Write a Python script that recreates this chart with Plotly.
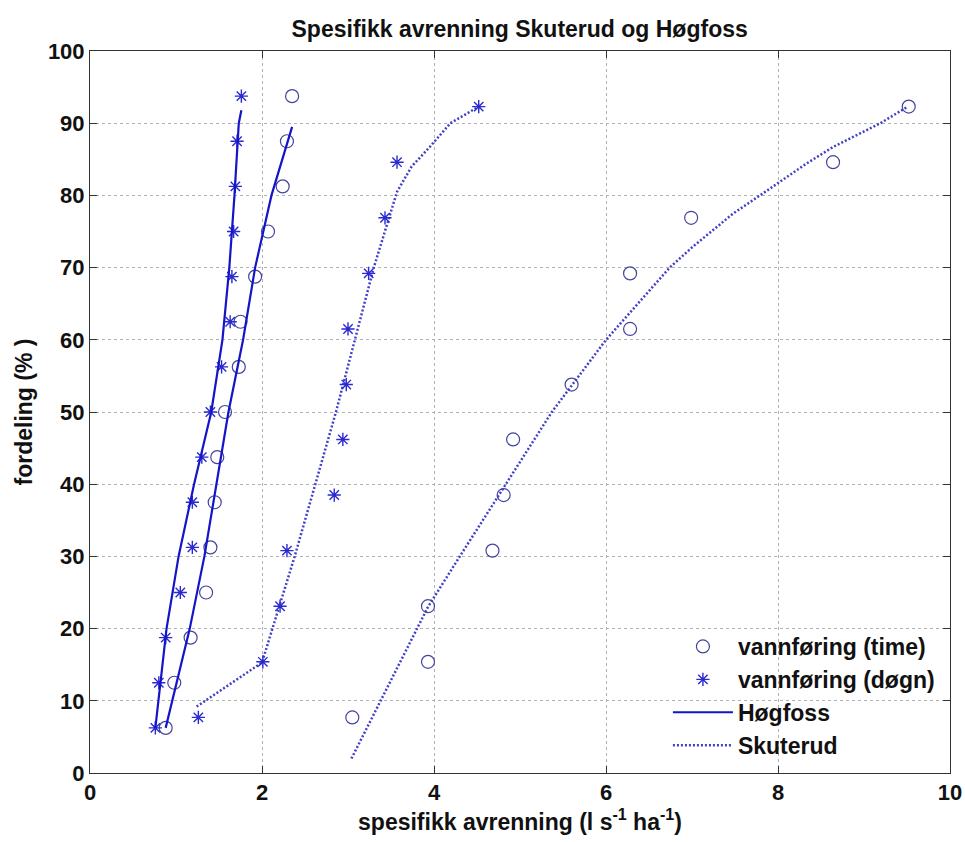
import plotly.graph_objects as go

# --- data ---
# Høgfoss (16 ranks -> step 6.25 %)
hog_y = [6.25, 12.5, 18.75, 25, 31.25, 37.5, 43.75, 50, 56.25, 62.5, 68.75, 75, 81.25, 87.5, 93.75]
hog_time_x = [0.88, 0.98, 1.17, 1.35, 1.40, 1.45, 1.48, 1.57, 1.73, 1.75, 1.92, 2.07, 2.24, 2.29, 2.35]
hog_dogn_x = [0.76, 0.80, 0.88, 1.05, 1.19, 1.19, 1.30, 1.40, 1.53, 1.63, 1.65, 1.67, 1.69, 1.71, 1.76]

# Skuterud (13 ranks -> step 7.69 %)
sku_y = [7.7, 15.4, 23.1, 30.8, 38.5, 46.2, 53.8, 61.5, 69.2, 76.9, 84.6, 92.3]
sku_time_x = [3.05, 3.93, 3.93, 4.68, 4.81, 4.92, 5.60, 6.28, 6.28, 6.99, 8.64, 9.52]
sku_dogn_x = [1.26, 2.01, 2.21, 2.29, 2.84, 2.94, 2.98, 3.00, 3.24, 3.43, 3.57, 4.52]

# fitted curves
hog_time_fit_x = [0.88, 0.955, 1.16, 1.33, 1.47, 1.61, 1.78, 1.92, 2.11, 2.35]
hog_time_fit_y = [6.25, 10, 20, 30, 40, 50, 60, 70, 80, 89.5]
hog_dogn_fit_x = [0.76, 0.795, 0.89, 1.03, 1.21, 1.41, 1.54, 1.62, 1.68, 1.73, 1.76]
hog_dogn_fit_y = [6.25, 10, 20, 30, 40, 50, 60, 70, 80, 90, 91.8]

sku_time_fit_x = [3.04, 3.38, 3.80, 3.93, 4.30, 4.84, 5.37, 6.00, 6.74, 7.01, 7.48, 7.79, 8.33, 8.64, 8.88, 9.19, 9.51]
sku_time_fit_y = [2.0, 10, 20, 23, 30, 40, 50, 60, 70, 72.9, 77.5, 80, 84.4, 86.7, 88.1, 90, 92.3]
sku_dogn_fit_x = [1.24, 2.00, 2.38, 2.62, 2.86, 3.08, 3.30, 3.47, 3.57, 3.74, 3.95, 4.19, 4.52]
sku_dogn_fit_y = [9.2, 15.3, 30, 40, 50, 60, 70, 76.6, 80.5, 84, 86.7, 90, 92.3]

x_ticks = [0, 2, 4, 6, 8, 10]
y_ticks = [0, 10, 20, 30, 40, 50, 60, 70, 80, 90, 100]

BLUE = "#1414c8"
DOT = "#4040c8"
CIRC = "#44449c"
STAR = "#2a2ad0"
FONT = "Arial, Liberation Sans, sans-serif"
DOTDASH = "2px,2px"

fig = go.Figure()
fig.add_trace(go.Scatter(x=hog_time_x, y=hog_y, mode="markers", name="vannføring (time)",
                         marker=dict(symbol="circle-open", size=13, color=CIRC, line=dict(width=1.2, color=CIRC))))
fig.add_trace(go.Scatter(x=hog_dogn_x, y=hog_y, mode="markers", name="vannføring (døgn)",
                         marker=dict(symbol="asterisk-open", size=11, color=STAR, line=dict(width=1.4, color=STAR))))
fig.add_trace(go.Scatter(x=hog_time_fit_x, y=hog_time_fit_y, mode="lines", name="Høgfoss",
                         line=dict(color=BLUE, width=2.2)))
fig.add_trace(go.Scatter(x=hog_dogn_fit_x, y=hog_dogn_fit_y, mode="lines", showlegend=False,
                         line=dict(color=BLUE, width=2.2)))
fig.add_trace(go.Scatter(x=sku_time_fit_x, y=sku_time_fit_y, mode="lines", name="Skuterud",
                         line=dict(color=DOT, width=2.5, dash=DOTDASH)))
fig.add_trace(go.Scatter(x=sku_dogn_fit_x, y=sku_dogn_fit_y, mode="lines", showlegend=False,
                         line=dict(color=DOT, width=2.5, dash=DOTDASH)))
fig.add_trace(go.Scatter(x=sku_time_x, y=sku_y, mode="markers", showlegend=False,
                         marker=dict(symbol="circle-open", size=13, color=CIRC, line=dict(width=1.2, color=CIRC))))
fig.add_trace(go.Scatter(x=sku_dogn_x, y=sku_y, mode="markers", showlegend=False,
                         marker=dict(symbol="asterisk-open", size=11, color=STAR, line=dict(width=1.4, color=STAR))))

axis_common = dict(showline=True, linecolor="#333", linewidth=1, mirror="ticks", ticks="inside",
                   ticklen=7, tickcolor="#333", showgrid=True, gridcolor="#b0b0b0", griddash="dot",
                   gridwidth=1, zeroline=False, automargin=False,
                   tickfont=dict(family=FONT, size=22, color="#111", weight="bold"))

fig.update_layout(
    width=965, height=842,
    margin=dict(l=90, r=15, t=51, b=69),
    paper_bgcolor="white", plot_bgcolor="white",
    title=dict(text="Spesifikk avrenning Skuterud og Høgfoss", x=0.5385, xanchor="center", y=0.966, yanchor="middle",
               font=dict(family=FONT, size=23, color="#111", weight="bold")),
    xaxis=dict(range=[0, 10], tickvals=x_ticks, **axis_common,
               title=dict(text="spesifikk avrenning (l s<sup>-1</sup> ha<sup>-1</sup>)", standoff=8,
                          font=dict(family=FONT, size=23, color="#111", weight="bold"))),
    yaxis=dict(range=[0, 100], tickvals=y_ticks, **axis_common,
               title=dict(text="fordeling (% )", standoff=8,
                          font=dict(family=FONT, size=23, color="#111", weight="bold"))),
    legend=dict(x=0.672, y=0.205, xanchor="left", yanchor="top", bgcolor="rgba(0,0,0,0)",
                borderwidth=0, itemwidth=60,
                font=dict(family=FONT, size=23, color="#111", weight="bold")),
    showlegend=True,
)

fig.write_html("out.html")
